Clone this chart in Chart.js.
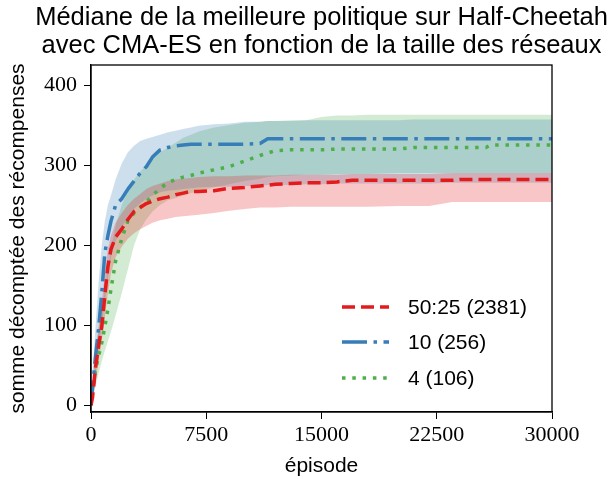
<!DOCTYPE html>
<html>
<head>
<meta charset="utf-8">
<script src="https://cdn.jsdelivr.net/npm/chart.js@4"></script>
<style>
  html, body { margin: 0; padding: 0; background: #fff; }
  #wrap { width: 609px; height: 479px; }
</style>
</head>
<body>
<div id="wrap"><canvas id="chart" width="609" height="479"></canvas></div>
<script>
// ---- data ----
const episodes = [0, 100, 300, 500, 700, 900, 1100, 1300, 1600, 2000, 2400, 2800, 3200, 3600, 4000, 4500,
  5000, 5500, 6000, 6500, 7000, 8000, 9000, 10000, 11000, 11500, 12000, 13000, 14000, 15000, 16000,
  17000, 18000, 20000, 21000, 22000, 23500, 24000, 25700, 26000, 28000, 30000];

// 50:25 (2381)
const redMedian = [0, 10, 48, 75, 98, 137, 173, 195, 210, 220, 232, 242, 247, 252, 255, 258,
  260, 263, 265, 267, 267, 268, 271, 272, 274, 275, 276, 277, 278, 278, 279,
  281, 281, 281, 281, 281, 281, 282, 282, 282, 282, 282];
const redUpper = [0, 25, 65, 100, 130, 165, 195, 212, 228, 240, 250, 258, 264, 270, 274, 277,
  280, 282, 283, 284, 285, 286, 286, 287, 287, 287, 287, 288, 288, 288, 288,
  289, 289, 289, 289, 289, 290, 290, 290, 290, 290, 290];
const redLower = [0, 5, 30, 55, 80, 110, 140, 165, 185, 198, 208, 215, 220, 224, 228, 231,
  233, 235, 236, 237, 238, 240, 243, 245, 247, 247, 247, 248, 248, 248, 248,
  248, 248, 249, 249, 249, 254, 254, 254, 254, 254, 254];

// 10 (256)
const blueMedian = [0, 22, 62, 97, 140, 190, 212, 230, 250, 258, 270, 280, 290, 298, 310, 319,
  322, 324, 325, 326, 326, 326, 326, 326, 327, 333, 333, 333, 333, 333, 333,
  333, 333, 333, 333, 333, 333, 333, 333, 333, 333, 333];
const blueUpper = [0, 40, 100, 155, 200, 230, 250, 262, 282, 302, 316, 324, 330, 333, 335, 338,
  341, 343, 345, 347, 349, 351, 352, 354, 354, 355, 355, 355, 356, 356, 356,
  356, 356, 356, 357, 357, 357, 357, 357, 357, 357, 357];
const blueLower = [0, 10, 40, 70, 100, 130, 160, 185, 205, 222, 235, 245, 252, 258, 262, 266,
  268, 269, 270, 271, 272, 273, 273, 274, 274, 275, 275, 275, 276, 276, 277,
  277, 277, 277, 277, 277, 278, 278, 278, 278, 278, 278];

// 4 (106)
const greenMedian = [0, 18, 45, 62, 78, 98, 120, 145, 180, 208, 230, 240, 247, 254, 262, 271,
  278, 282, 285, 287, 290, 294, 298, 305, 312, 315, 318, 319, 319, 319, 320,
  320, 320, 320, 322, 322, 322, 322, 322, 325, 325, 325];
const greenUpper = [0, 30, 70, 95, 120, 145, 170, 195, 225, 250, 268, 282, 292, 300, 308, 316,
  322, 328, 334, 338, 342, 347, 350, 353, 354, 355, 355, 356, 356, 360, 362,
  362, 363, 363, 363, 363, 363, 363, 363, 363, 363, 363];
const greenLower = [0, 8, 25, 40, 55, 68, 80, 92, 112, 140, 170, 200, 220, 232, 242, 250,
  256, 259, 262, 265, 267, 272, 276, 280, 283, 285, 286, 287, 288, 288, 289,
  289, 289, 290, 290, 290, 290, 290, 290, 290, 290, 290];

const seriesLabels = ['50:25 (2381)', '10 (256)', '4 (106)'];
const xTicks = [0, 7500, 15000, 22500, 30000];
const yTicks = [0, 100, 200, 300, 400];

const titleLines = ['Médiane de la meilleure politique sur Half-Cheetah',
  'avec CMA-ES en fonction de la taille des réseaux'];

const RED = '#e41a1c', BLUE = '#377eb8', GREEN = '#4daf4a';
const SANS = '"Liberation Sans", Arial, sans-serif';
const SERIF = '"Liberation Serif", "Times New Roman", serif';

function pts(ys) {
    return episodes.map((x, i) => ({ x: x, y: ys[i] }));
}

function lineSet(label, ys, color, dash) {
    return {
        label: label,
        data: pts(ys),
        borderColor: color,
        backgroundColor: color,
        borderWidth: 3.5,
        borderDash: dash,
        borderCapStyle: 'butt',
        borderJoinStyle: 'round',
        pointRadius: 0,
        fill: false,
        tension: 0
    };
}

function bandSet(ys, fillColor, target) {
    return {
        label: '',
        data: pts(ys),
        borderWidth: 0,
        borderColor: 'rgba(0,0,0,0)',
        backgroundColor: fillColor,
        pointRadius: 0,
        tension: 0,
        fill: target === undefined ? false : { target: target }
    };
}

const datasets = [
    lineSet(seriesLabels[0], redMedian, RED, [13, 6]),               // 0
    lineSet(seriesLabels[1], blueMedian, BLUE, [25, 6.5, 3.5, 6.5]), // 1
    lineSet(seriesLabels[2], greenMedian, GREEN, [3.5, 6.8]),        // 2
    bandSet(redLower, 'rgba(0,0,0,0)'),                               // 3
    bandSet(redUpper, 'rgba(228,26,28,0.25)', 3),                     // 4
    bandSet(blueLower, 'rgba(0,0,0,0)'),                              // 5
    bandSet(blueUpper, 'rgba(55,126,184,0.25)', 5),                   // 6
    bandSet(greenLower, 'rgba(0,0,0,0)'),                             // 7
    bandSet(greenUpper, 'rgba(77,175,74,0.25)', 7)                    // 8
];

// title, frame and legend drawn by hand
const decorations = {
    id: 'decorations',
    afterDraw(chart) {
        const ctx = chart.ctx;
        const a = chart.chartArea;
        ctx.save();

        // frame
        ctx.strokeStyle = '#000';
        ctx.lineWidth = 1.3;
        ctx.strokeRect(a.left, a.top, a.right - a.left, a.bottom - a.top);

        // title, centred on the axes
        ctx.fillStyle = '#000';
        ctx.font = '25.5px ' + SANS;
        ctx.textAlign = 'center';
        ctx.textBaseline = 'middle';
        const cx = (a.left + a.right) / 2;
        ctx.fillText(titleLines[0], cx, 18);
        ctx.fillText(titleLines[1], cx, 46);

        // legend
        const rows = [307, 342, 378];
        ctx.font = '21px ' + SANS;
        ctx.textAlign = 'left';
        for (let i = 0; i < 3; i++) {
            const ds = chart.data.datasets[i];
            ctx.strokeStyle = ds.borderColor;
            ctx.lineWidth = ds.borderWidth;
            ctx.lineCap = 'butt';
            ctx.setLineDash(ds.borderDash);
            ctx.beginPath();
            ctx.moveTo(342, rows[i]);
            ctx.lineTo(389, rows[i]);
            ctx.stroke();
            ctx.setLineDash([]);
            ctx.fillStyle = '#000';
            ctx.fillText(ds.label, 408, rows[i] + 1);
        }
        ctx.restore();
    }
};

new Chart(document.getElementById('chart'), {
    type: 'line',
    data: { datasets: datasets },
    options: {
        responsive: false,
        animation: false,
        devicePixelRatio: 1,
        layout: { padding: { top: 65, right: 57, left: 0, bottom: 0 } },
        plugins: {
            legend: { display: false },
            title: { display: false },
            tooltip: { enabled: false }
        },
        scales: {
            x: {
                type: 'linear',
                min: 0,
                max: 30000,
                afterBuildTicks: (scale) => { scale.ticks = xTicks.map(v => ({ value: v })); },
                afterFit: (scale) => { scale.height = 67; },
                grid: { drawOnChartArea: false, drawTicks: true, tickLength: 7, color: '#000', tickWidth: 1 },
                border: { display: true, color: '#000', width: 1.3 },
                ticks: {
                    color: '#000',
                    font: { family: SERIF, size: 22 },
                    padding: 3,
                    maxRotation: 0,
                    callback: (v) => String(v)
                },
                title: {
                    display: true,
                    text: 'épisode',
                    color: '#000',
                    font: { family: SANS, size: 21 },
                    padding: { top: 0, bottom: 0 }
                }
            },
            y: {
                type: 'linear',
                min: -8.4,
                max: 425,
                afterBuildTicks: (scale) => { scale.ticks = yTicks.map(v => ({ value: v })); },
                afterFit: (scale) => { scale.width = 91; },
                grid: { drawOnChartArea: false, drawTicks: true, tickLength: 7, color: '#000', tickWidth: 1 },
                border: { display: true, color: '#000', width: 1.3 },
                ticks: {
                    color: '#000',
                    font: { family: SERIF, size: 22 },
                    padding: 7,
                    callback: (v) => String(v)
                },
                title: {
                    display: true,
                    text: 'somme décomptée des récompenses',
                    color: '#000',
                    font: { family: SANS, size: 21 },
                    padding: { top: 6, bottom: 0 }
                }
            }
        }
    },
    plugins: [decorations]
});
</script>
</body>
</html>
